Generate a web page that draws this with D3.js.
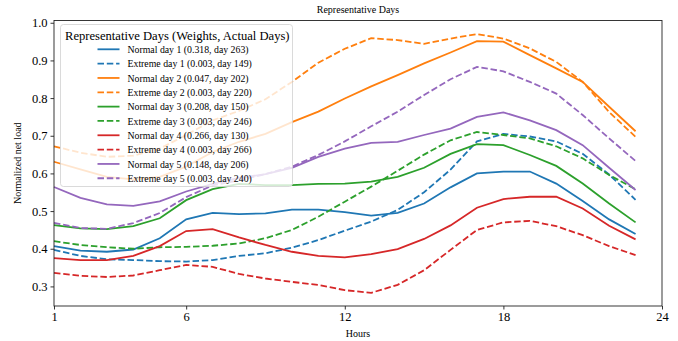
<!DOCTYPE html>
<html>
<head>
<meta charset="utf-8">
<script src="https://cdn.jsdelivr.net/npm/d3@7"></script>
<style>
  body { margin: 0; background: #fff; }
  svg text { font-family: "Liberation Serif", "DejaVu Serif", serif; fill: #000; }
</style>
</head>
<body>
<svg id="plot" width="678" height="341"></svg>
<script>
var hours = [1,2,3,4,5,6,7,8,9,10,11,12,13,14,15,16,17,18,19,20,21,22,23];

var normal1  = [0.407,0.395,0.392,0.398,0.428,0.478,0.495,0.492,0.494,0.504,0.504,0.497,0.488,0.495,0.520,0.563,0.600,0.605,0.605,0.573,0.527,0.478,0.439];
var extreme1 = [0.397,0.381,0.372,0.370,0.367,0.366,0.370,0.381,0.388,0.403,0.423,0.448,0.472,0.503,0.550,0.610,0.685,0.705,0.698,0.685,0.652,0.597,0.530];
var normal2  = [0.631,0.611,0.591,0.584,0.591,0.618,0.657,0.684,0.705,0.736,0.764,0.799,0.831,0.861,0.892,0.921,0.951,0.950,0.914,0.879,0.843,0.777,0.712];
var extreme2 = [0.672,0.655,0.644,0.647,0.666,0.702,0.741,0.766,0.797,0.843,0.894,0.931,0.959,0.954,0.944,0.958,0.970,0.958,0.932,0.896,0.843,0.763,0.697];
var normal3  = [0.463,0.454,0.452,0.460,0.481,0.529,0.558,0.572,0.569,0.569,0.572,0.573,0.578,0.591,0.615,0.652,0.678,0.675,0.649,0.620,0.573,0.520,0.470];
var extreme3 = [0.420,0.410,0.404,0.400,0.404,0.405,0.408,0.414,0.428,0.450,0.485,0.525,0.565,0.607,0.650,0.688,0.710,0.702,0.693,0.672,0.640,0.596,0.558];
var normal4  = [0.375,0.370,0.370,0.381,0.407,0.447,0.452,0.430,0.410,0.392,0.381,0.377,0.386,0.399,0.426,0.462,0.509,0.532,0.538,0.538,0.507,0.461,0.425];
var extreme4 = [0.336,0.328,0.325,0.329,0.343,0.357,0.352,0.333,0.321,0.312,0.304,0.290,0.283,0.304,0.343,0.397,0.450,0.470,0.474,0.460,0.436,0.407,0.383];
var normal5  = [0.564,0.535,0.518,0.514,0.526,0.552,0.572,0.588,0.598,0.615,0.644,0.666,0.681,0.684,0.702,0.719,0.750,0.762,0.741,0.715,0.675,0.615,0.556];
var extreme5 = [0.469,0.455,0.453,0.468,0.495,0.537,0.568,0.582,0.598,0.618,0.649,0.685,0.725,0.764,0.808,0.850,0.883,0.871,0.843,0.812,0.755,0.693,0.633];

var seriesNames = ["Normal day 1 (0.318, day 263)", "Extreme day 1 (0.003, day 149)",
                   "Normal day 2 (0.047, day 202)", "Extreme day 2 (0.003, day 220)",
                   "Normal day 3 (0.208, day 150)", "Extreme day 3 (0.003, day 246)",
                   "Normal day 4 (0.266, day 130)", "Extreme day 4 (0.003, day 266)",
                   "Normal day 5 (0.148, day 206)", "Extreme day 5 (0.003, day 240)"];
var seriesValues = [normal1, extreme1, normal2, extreme2, normal3, extreme3, normal4, extreme4, normal5, extreme5];
var colors = ["#1f77b4","#ff7f0e","#2ca02c","#d62728","#9467bd"];

var xTicks = [1,6,12,18,24];
var yTicks = [0.3,0.4,0.5,0.6,0.7,0.8,0.9,1.0];

var svg = d3.select("#plot");
var pLeft = 54, pRight = 662, pTop = 20.5, pBottom = 306;

var xscale = d3.scaleLinear().domain([1,24]).range([pLeft,pRight]);
var yscale = d3.scaleLinear().domain([0.248,1.006]).range([pBottom,pTop]);

function colorOf(i){ return colors[Math.floor(i/2)]; }
function dashOf(i){ return i % 2 == 1 ? "6.5,2.8" : null; }

var lineGenerator = d3.line()
	.x(d => xscale(d.h))
	.y(d => yscale(d.v));

// lines
for (var i = 0; i < seriesValues.length; i++){
	var pts = hours.map((h,k) => ({h: h, v: seriesValues[i][k]}));
	svg.append("path")
		.attr("d", lineGenerator(pts))
		.attr("fill","none")
		.attr("stroke", colorOf(i))
		.attr("stroke-width", 1.8)
		.attr("stroke-dasharray", dashOf(i));
}

// axes
var xAxis = svg.append("g")
	.attr("transform","translate(0,"+pBottom+")")
	.call(d3.axisBottom(xscale).tickValues(xTicks).tickFormat(d3.format("d")).tickSize(3.5).tickPadding(3));
var yAxis = svg.append("g")
	.attr("transform","translate("+pLeft+",0)")
	.call(d3.axisLeft(yscale).tickValues(yTicks).tickFormat(d3.format(".1f")).tickSize(3.5).tickPadding(3));
[xAxis, yAxis].forEach(a => {
	a.select(".domain").remove();
	a.selectAll("line").attr("stroke","#000").attr("stroke-width",0.8);
	a.selectAll("text").style("font-size","12.5px").style("font-family","Liberation Serif");
});

// frame
svg.append("rect")
	.attr("x",pLeft).attr("y",pTop)
	.attr("width",pRight-pLeft).attr("height",pBottom-pTop)
	.attr("fill","none").attr("stroke","#222").attr("stroke-width",0.9);

// titles
svg.append("text").attr("x",(pLeft+pRight)/2).attr("y",12.5)
	.attr("text-anchor","middle").style("font-size","10px").text("Representative Days");
svg.append("text").attr("x",(pLeft+pRight)/2).attr("y",337)
	.attr("text-anchor","middle").style("font-size","10px").text("Hours");
svg.append("text").attr("transform","translate(21,"+((pTop+pBottom)/2)+") rotate(-90)")
	.attr("text-anchor","middle").style("font-size","10px").text("Normalized net load");

// legend
var legend = svg.append("g");
legend.append("rect")
	.attr("x",60.5).attr("y",24.5).attr("width",232).attr("height",162).attr("rx",3)
	.attr("fill","#fff").attr("fill-opacity",0.8)
	.attr("stroke","#d0d0d0").attr("stroke-width",0.8);
legend.append("text").attr("x",65).attr("y",40)
	.style("font-size","12.6px").text("Representative Days (Weights, Actual Days)");
seriesNames.forEach((name, i) => {
	var y = 49.3 + i*14.33;
	legend.append("line")
		.attr("x1",97.5).attr("x2",119.5).attr("y1",y).attr("y2",y)
		.attr("stroke",colorOf(i)).attr("stroke-width",1.8)
		.attr("stroke-dasharray", dashOf(i));
	legend.append("text").attr("x",127.5).attr("y",y+3.6)
		.style("font-size","9.8px").text(name);
});
</script>
</body>
</html>
